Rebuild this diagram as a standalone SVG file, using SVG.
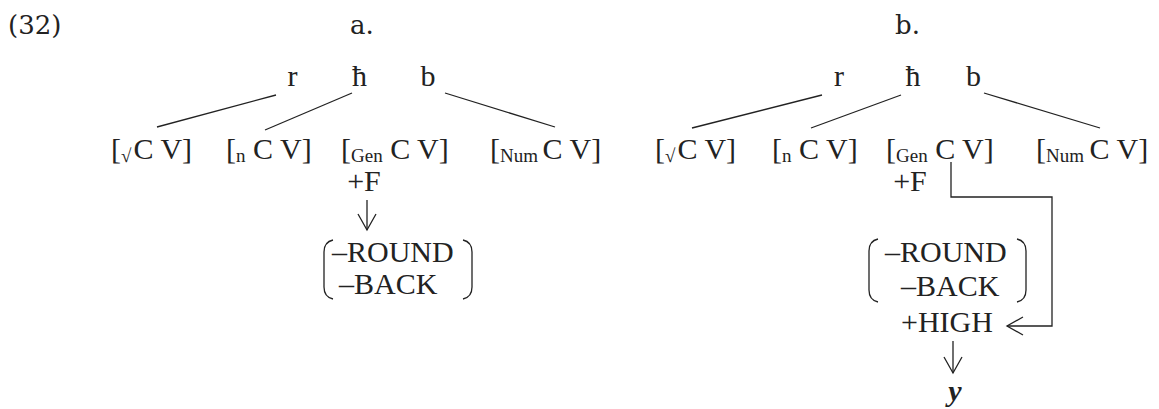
<svg xmlns="http://www.w3.org/2000/svg" width="1159" height="409" viewBox="0 0 1159 409">
<style>
.hd{font-family:"DejaVu Serif","Liberation Serif",serif;font-size:26px;fill:#222}
.t{font-family:"Liberation Serif","Times New Roman",serif;font-size:30px;fill:#222}
.s{font-size:19px}
.y{font-family:"Liberation Serif","Times New Roman",serif;font-size:30px;font-weight:bold;font-style:italic;fill:#222}
.ln{stroke:#222;stroke-width:1.3;fill:none}
</style>
<defs>
<marker id="ah" markerUnits="userSpaceOnUse" markerWidth="20" markerHeight="22" refX="17" refY="10" orient="auto">
<path d="M1,1 L17,10 L1,19" fill="none" stroke="#222" stroke-width="1.3"/>
</marker>
</defs>
<rect width="1159" height="409" fill="#fff"/>
<g id="headers">
<text class="hd" x="8" y="34">(32)</text>
<text class="hd" x="350" y="34">a.</text>
<text class="hd" x="895" y="34">b.</text>
</g>
<g id="tree-a">
<g id="a-roots">
<text class="t" x="292.5" y="86" text-anchor="middle">r</text>
<text class="t" x="359.5" y="86" text-anchor="middle">ħ</text>
<text class="t" x="428" y="86" text-anchor="middle">b</text>
</g>
<g id="a-root-seg"><text class="t" x="111" y="159">[<tspan class="s" dy="3">√</tspan><tspan dy="-3" dx="2">C V]</tspan></text></g>
<g id="a-n-seg"><text class="t" x="226" y="159">[<tspan class="s" dy="3">n</tspan><tspan dy="-3"> C V]</tspan></text></g>
<g id="a-gen-seg"><text class="t" x="341" y="159">[<tspan class="s" dy="3">Gen</tspan><tspan dy="-3"> C V]</tspan></text></g>
<g id="a-num-seg"><text class="t" x="490" y="159">[<tspan class="s" dy="3">Num</tspan><tspan dy="-3" dx="-3"> C V]</tspan></text></g>
<g id="a-F"><text class="t" x="364" y="191" text-anchor="middle">+F</text></g>
<g id="a-matrix">
<path class="ln" d="M333,240 Q324,242 324,252 L324,287 Q324,297 333,299"/>
<path class="ln" d="M463,240 Q472,242 472,252 L472,287 Q472,297 463,299"/>
<text class="t" x="332" y="262">–ROUND</text>
<text class="t" x="339" y="294">–BACK</text>
</g>
</g>
<g id="tree-b">
<g id="b-roots">
<text class="t" x="839" y="86" text-anchor="middle">r</text>
<text class="t" x="913" y="86" text-anchor="middle">ħ</text>
<text class="t" x="973.5" y="86" text-anchor="middle">b</text>
</g>
<g id="b-root-seg"><text class="t" x="655" y="159">[<tspan class="s" dy="3">√</tspan><tspan dy="-3" dx="2">C V]</tspan></text></g>
<g id="b-n-seg"><text class="t" x="772" y="159">[<tspan class="s" dy="3">n</tspan><tspan dy="-3"> C V]</tspan></text></g>
<g id="b-gen-seg"><text class="t" x="886" y="159">[<tspan class="s" dy="3">Gen</tspan><tspan dy="-3"> C V]</tspan></text></g>
<g id="b-num-seg"><text class="t" x="1036" y="159">[<tspan class="s" dy="3">Num</tspan><tspan dy="-3" dx="-2"> C V]</tspan></text></g>
<g id="b-F"><text class="t" x="910" y="191" text-anchor="middle">+F</text></g>
<g id="b-matrix">
<path class="ln" d="M878,239 Q869,241 869,251 L869,290 Q869,300 878,302"/>
<path class="ln" d="M1017,239 Q1026,241 1026,251 L1026,290 Q1026,300 1017,302"/>
<text class="t" x="885" y="262">–ROUND</text>
<text class="t" x="901" y="296">–BACK</text>
<text class="t" x="901" y="332">+HIGH</text>
</g>
<g id="b-y"><text class="y" x="955" y="401" text-anchor="middle">y</text></g>
</g>
<g id="connectors">
<line class="ln" x1="276" y1="95" x2="157" y2="127"/>
<line class="ln" x1="352" y1="93" x2="265" y2="130"/>
<line class="ln" x1="445" y1="93" x2="555" y2="127"/>
<line class="ln" x1="367" y1="200" x2="367" y2="230" marker-end="url(#ah)"/>
<line class="ln" x1="822" y1="95" x2="692" y2="128"/>
<line class="ln" x1="901" y1="95" x2="811" y2="128"/>
<line class="ln" x1="984" y1="93" x2="1100" y2="128"/>
<polyline class="ln" points="951,162 951,197 1052,197 1052,326 1007,326" marker-end="url(#ah)"/>
<line class="ln" x1="953" y1="341" x2="953" y2="373" marker-end="url(#ah)"/>
</g>
</svg>
